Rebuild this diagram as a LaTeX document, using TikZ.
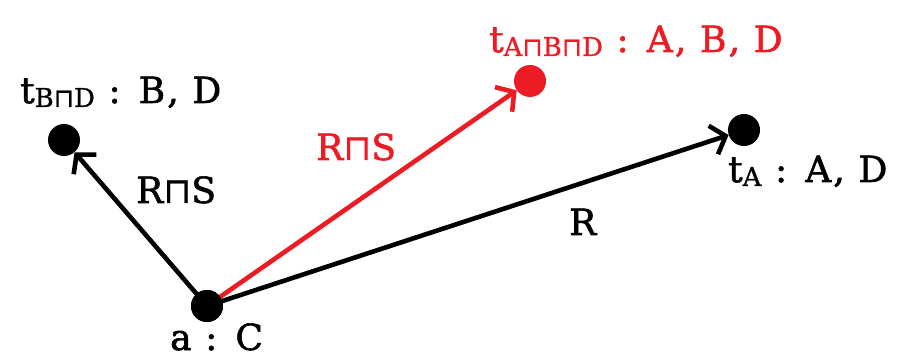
\documentclass[tikz,border=0pt]{standalone}
\usepackage{fontspec}
\setmainfont{DejaVu Serif}
\newfontfamily\lblfont[LetterSpace=6,FakeBold=1.6]{DejaVu Serif}
\newfontfamily\subfont[LetterSpace=4,FakeBold=1]{DejaVu Serif}
\newfontfamily\symfont[FakeBold=0.5]{DejaVu Sans}
\usetikzlibrary{arrows.meta}
\definecolor{myred}{RGB}{237,28,36}
\newcommand{\sq}{{\symfont ⊓}}
\newcommand{\subtx}[1]{\raisebox{-4pt}{\subfont\fontsize{26}{26}\selectfont #1}}
\tikzset{
  dot/.style={circle,fill,inner sep=0pt,minimum size=32pt},
  lbl/.style={inner sep=0pt,anchor=base west,font=\lblfont\fontsize{36}{40}\selectfont},
  arr/.style={line width=4.6pt,-{Straight Barb[length=13pt,width=30pt,line width=4.6pt]}}
}
\begin{document}
\begin{tikzpicture}[x=1pt,y=1pt]
\useasboundingbox (0,0) rectangle (897,-358);
\node[dot] (a) at (207,-306) {};
\node[dot] (tbd) at (64,-140) {};
\node[dot,myred] (tabd) at (530,-81) {};
\node[dot] (ta) at (744,-130) {};
\draw[arr] (a.center) -- (tbd);
\draw[arr] (a.center) -- (ta);
\draw[arr,myred] (a.center) -- (tabd);
\node[dot] at (a) {};
\node[lbl] (ltbd) at (20,-103) {t\subtx{B\sq D} : B, D};
\node[lbl,myred] (ltabd) at (489,-52) {t\subtx{A\sq B\sq D} : A, B, D};
\node[lbl] (lta) at (728,-182) {t\subtx{A} : A, D};
\node[lbl] (la) at (170,-350) {a : C};
\node[lbl] (l1) at (136,-203) {R\sq S};
\node[lbl,myred] (l2) at (316,-160) {R\sq S};
\node[lbl] (l3) at (569,-235) {R};
\end{tikzpicture}
\end{document}
